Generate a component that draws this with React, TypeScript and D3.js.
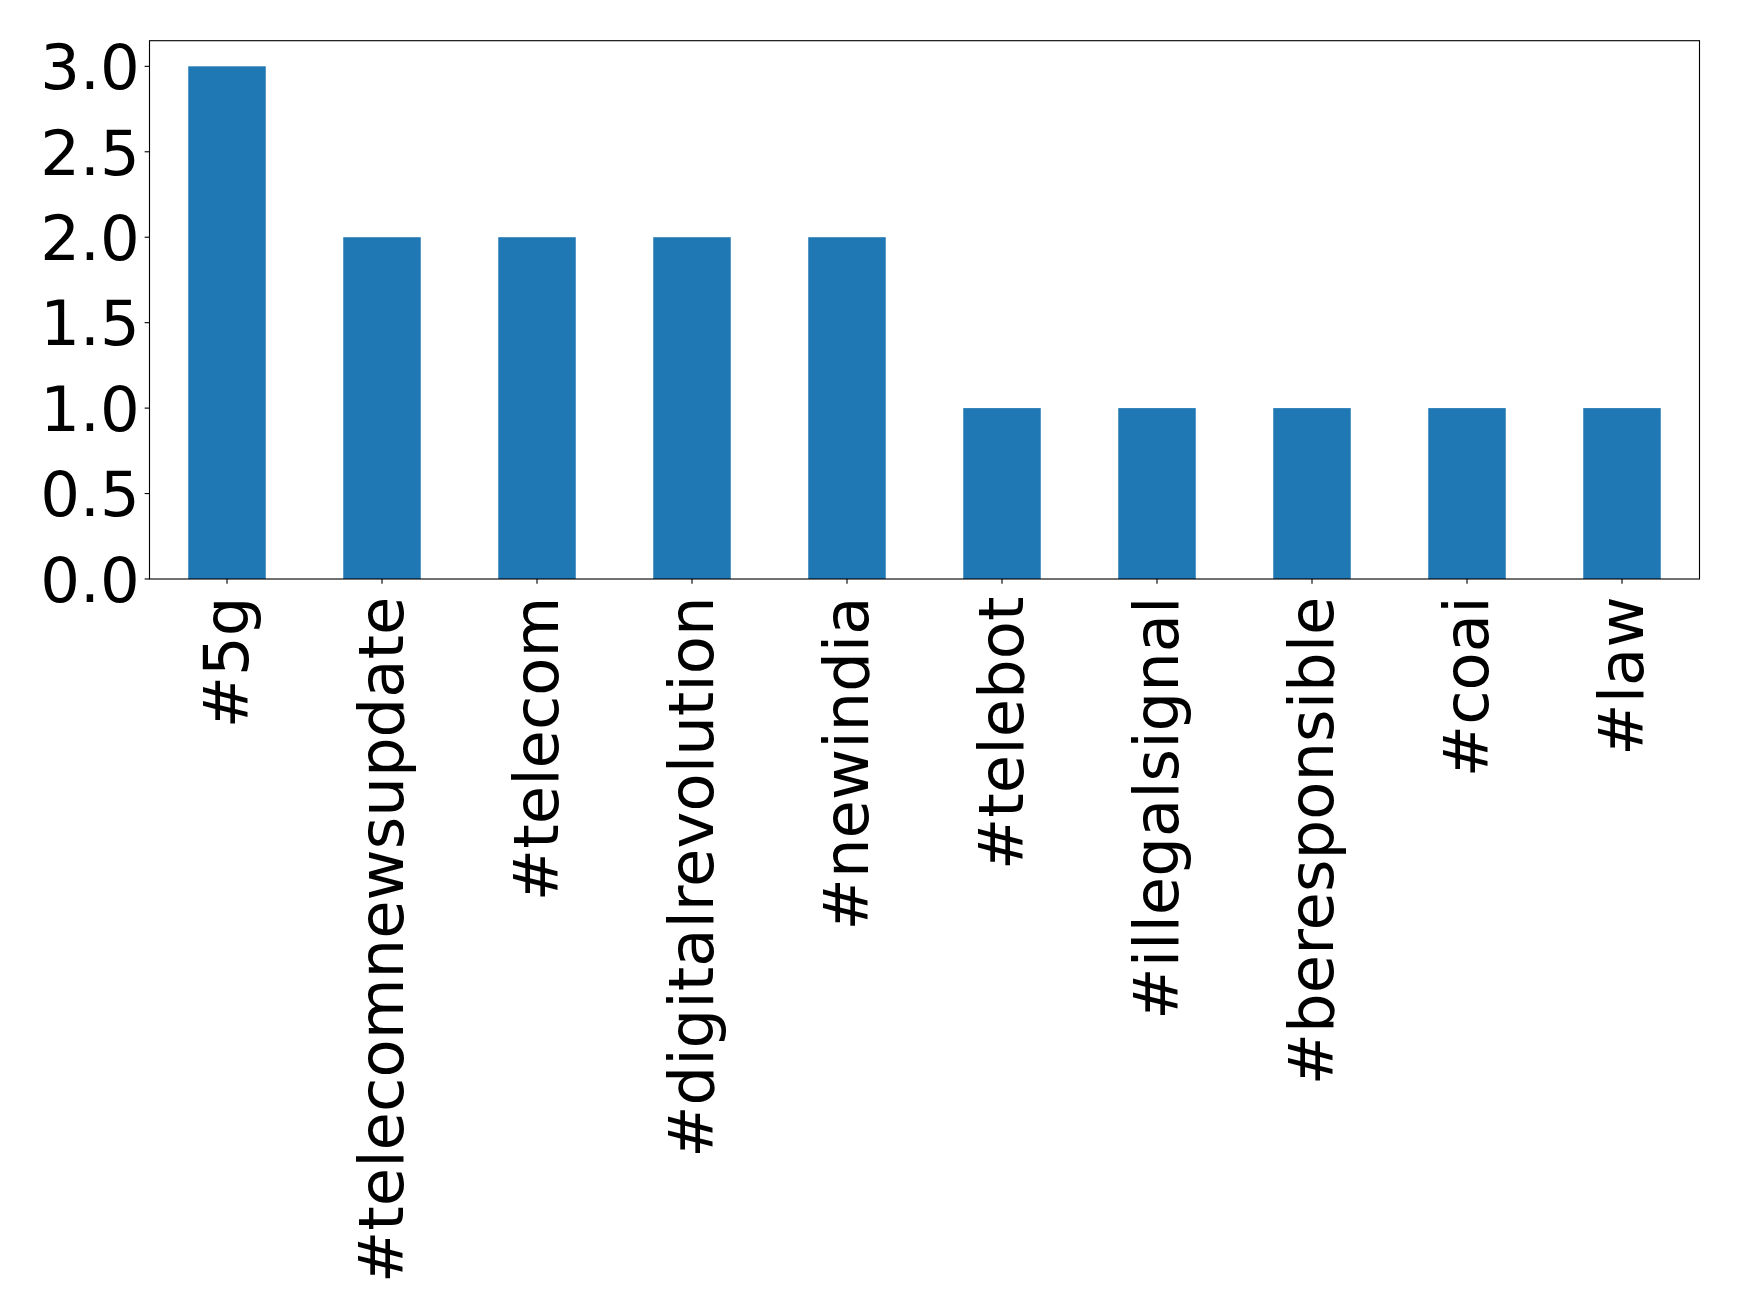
import React from "react";
import * as d3 from "d3";

const categories = [
  "#5g",
  "#telecomnewsupdate",
  "#telecom",
  "#digitalrevolution",
  "#newindia",
  "#telebot",
  "#illegalsignal",
  "#beresponsible",
  "#coai",
  "#law",
];
const counts = [3, 2, 2, 2, 2, 1, 1, 1, 1, 1];
const yTicks = [0, 0.5, 1.0, 1.5, 2.0, 2.5, 3.0];

const W = 1739;
const H = 1315;
const left = 149.5;
const right = 1699.5;
const top = 40.7;
const bottom = 579;
const FONT = "DejaVu Sans, sans-serif";
const FS = 62.5;
const TICK = 4.86;
const PAD = 4.86;
const XLABEL_OFF = 17.5;

export default function App() {
  const x = d3
    .scaleBand<string>()
    .domain(categories)
    .range([left, right])
    .paddingInner(0.5)
    .paddingOuter(0.25);
  const yMax = d3.max(counts)! * 1.05;
  const y = d3.scaleLinear().domain([0, yMax]).range([bottom, top]);

  return (
    <svg
      width={W}
      height={H}
      style={{ position: "absolute", left: 0, top: 0, background: "#fff" }}
      fontFamily={FONT}
    >
      <rect x={0} y={0} width={W} height={H} fill="#fff" />
      {categories.map((c, i) => (
        <rect
          key={c}
          x={x(c)!}
          y={y(counts[i])}
          width={x.bandwidth()}
          height={y(0) - y(counts[i])}
          fill="#1f77b4"
        />
      ))}
      <rect
        x={left}
        y={top}
        width={right - left}
        height={bottom - top}
        fill="none"
        stroke="#000"
        strokeWidth={1.11}
      />
      {yTicks.map((t) => (
        <g key={t}>
          <line x1={left - TICK} x2={left} y1={y(t)} y2={y(t)} stroke="#000" strokeWidth={1.11} />
          <text
            x={left - TICK - PAD}
            y={y(t)}
            dy={FS * 0.3645}
            textAnchor="end"
            fontSize={FS}
            fill="#000"
          >
            {t.toFixed(1)}
          </text>
        </g>
      ))}
      {categories.map((c) => {
        const cx = x(c)! + x.bandwidth() / 2;
        return (
          <g key={c}>
            <line x1={cx} x2={cx} y1={bottom} y2={bottom + TICK} stroke="#000" strokeWidth={1.11} />
            <text
              transform={`translate(${cx},${bottom + XLABEL_OFF}) rotate(-90)`}
              textAnchor="end"
              dy={FS * 0.33}
              fontSize={FS}
              fill="#000"
            >
              {c}
            </text>
          </g>
        );
      })}
    </svg>
  );
}
